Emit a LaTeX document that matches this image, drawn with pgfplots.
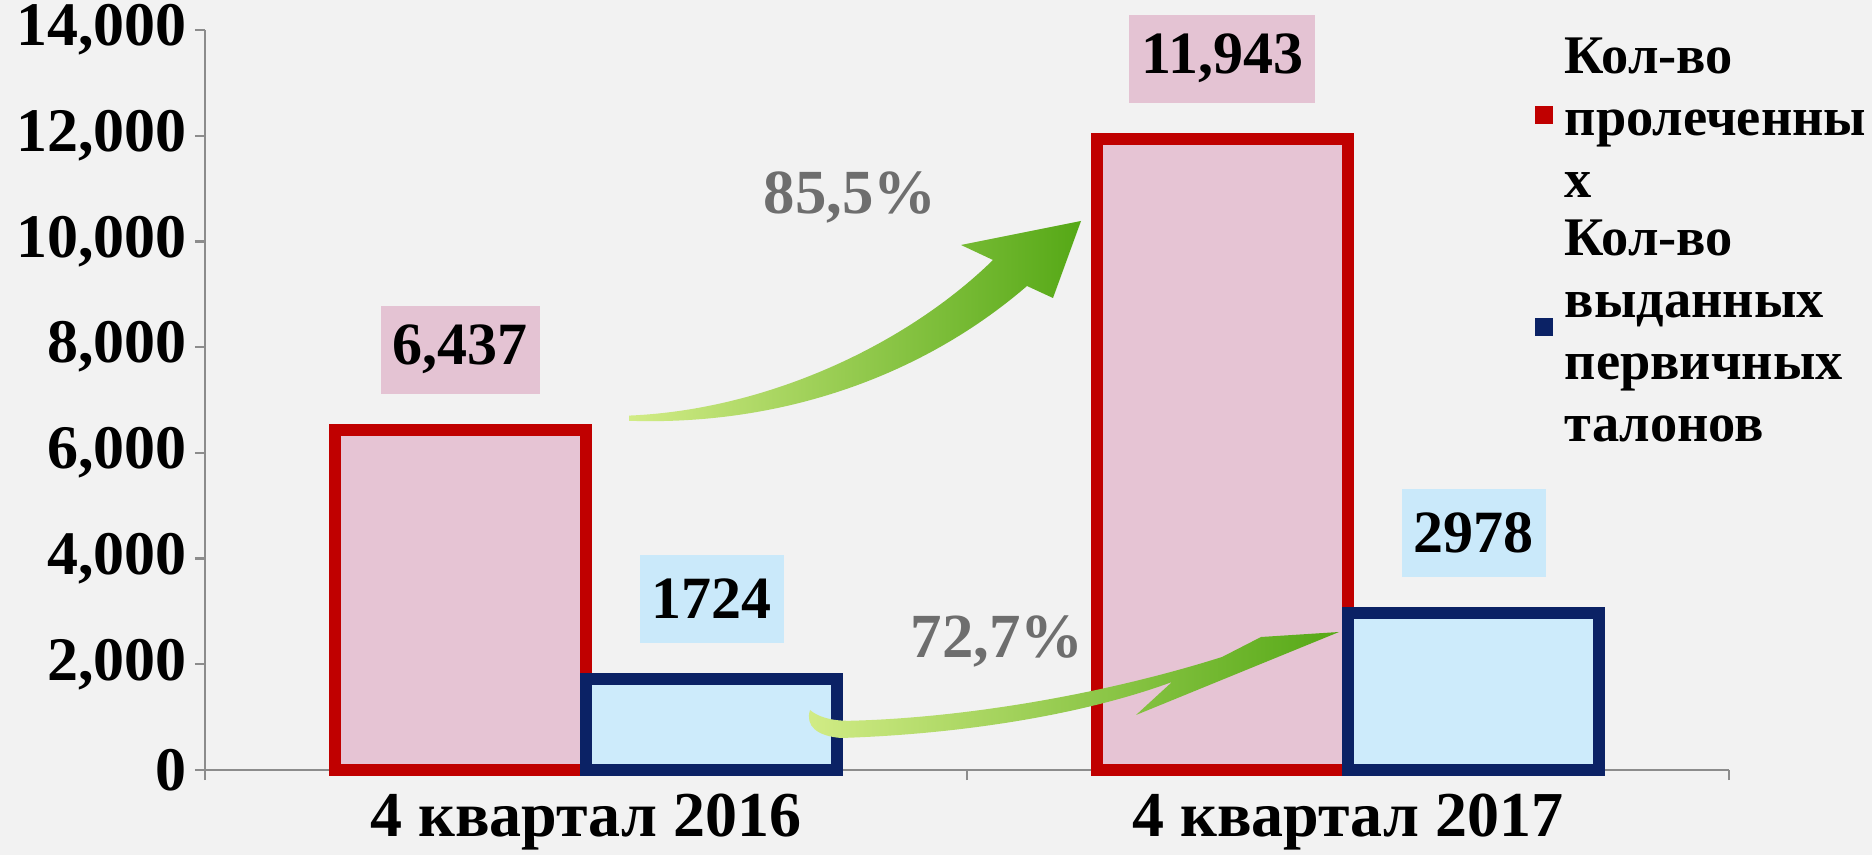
\documentclass[border=0pt]{standalone}
\usepackage{fontspec}
\setmainfont{Liberation Serif}
\usepackage{pgfplots}
\pgfplotsset{compat=1.18}
\definecolor{BgGrey}{HTML}{F2F2F2}
\definecolor{BarPink}{HTML}{E6C4D4}
\definecolor{BarBlue}{HTML}{CDEBFB}
\definecolor{BarRed}{HTML}{C00000}
\definecolor{BarNavy}{HTML}{0B2265}
\definecolor{LabelPink}{HTML}{E4C3D3}
\definecolor{LabelBlue}{HTML}{CAE9FA}
\definecolor{PctGrey}{HTML}{6E6E6E}
\definecolor{AxisGrey}{HTML}{8C8C8C}
\definecolor{LimeLight}{HTML}{D2EC86}
\definecolor{LimeDark}{HTML}{55A816}

\begin{document}
\begin{tikzpicture}
\fill[BgGrey] (-51.25pt,-21.25pt) rectangle (416.75pt,192.5pt);
\path[use as bounding box] (-51.25pt,-21.25pt) rectangle (416.75pt,192.5pt);
\begin{axis}[
  at={(0pt,0pt)}, anchor=south west,
  scale only axis,
  width=381pt, height=185pt,
  ybar=0pt, bar width=0.33,
  xmin=-0.5, xmax=1.5,
  ymin=0, ymax=14000,
  ytick distance=2000,
  scaled y ticks=false,
  yticklabel style={/pgf/number format/fixed, /pgf/number format/1000 sep={,}, xshift=1.5pt},
  xtick={0,1},
  xticklabels={4 квартал 2016, 4 квартал 2017},
  minor xtick={-0.5,0.5,1.5},
  major x tick style={draw=none},
  tick align=outside,
  major tick length=2.5pt, minor tick length=2.5pt,
  tick style={AxisGrey, line width=0.6pt},
  axis x line*=bottom, axis y line*=left,
  axis line style={AxisGrey, line width=0.6pt},
  /pgf/number format/assume math mode=true,
  y tick label style={font=\bfseries\fontsize{15.5}{16}\selectfont},
  x tick label style={font=\bfseries\fontsize{16}{17}\selectfont},
  clip=false,
  every node near coord/.append style={
    font=\bfseries\fontsize{15}{15}\selectfont, text=black, draw=none,
    inner xsep=3pt, minimum height=22pt, anchor=south, yshift=9pt},
]
\addplot[draw=BarRed, fill=BarPink, line width=3pt,
  nodes near coords={\pgfmathprintnumber[1000 sep={,}]{\pgfplotspointmeta}},
  every node near coord/.append style={fill=LabelPink, line width=0pt}]
  coordinates {(0,6437) (1,11943)};
\addplot[draw=BarNavy, fill=BarBlue, line width=3pt,
  nodes near coords={\pgfmathprintnumber[1000 sep={}]{\pgfplotspointmeta}},
  every node near coord/.append style={fill=LabelBlue, line width=0pt}]
  coordinates {(0,1724) (1,2978)};
\end{axis}
\begin{scope}[x=1pt, y=1pt]
% growth arrows
\shade[left color=LimeLight, right color=LimeDark]
  (106,88.6) .. controls (140,90) and (175,106) .. (197,127.5)
  -- (189,131.25) -- (219,137.25) -- (212,118) -- (205.5,121)
  .. controls (180,99) and (145,86) .. (106,87.3) -- cycle;
\shade[left color=LimeLight, right color=LimeDark]
  (151.25,15) .. controls (150,11) and (153,8.5) .. (159,8)
  .. controls (190,9) and (220,14) .. (241.75,22)
  -- (232.75,13.75) -- (283.5,34.5) -- (264,33.25) -- (254.25,28.25)
  .. controls (225,19) and (190,13) .. (161,12.3)
  .. controls (156,12.3) and (153,13.5) .. (151.25,15) -- cycle;
\node[text=PctGrey, font=\bfseries\fontsize{15.7}{16}\selectfont] at (161.25,143.25) {85,5\%};
\node[text=PctGrey, font=\bfseries\fontsize{15.7}{16}\selectfont] at (198,32.25) {72,7\%};
% legend
\fill[BarRed] (332.5,161.5) rectangle (337,166);
\fill[BarNavy] (332.5,108.5) rectangle (337,113);
\node[anchor=west, align=left, inner sep=0pt, font=\bfseries\fontsize{13.6}{15.5}\selectfont]
  at (339.75,163) {Кол-во\\пролеченны\\х};
\node[anchor=west, align=left, inner sep=0pt, font=\bfseries\fontsize{13.6}{15.5}\selectfont]
  at (339.75,109.8) {Кол-во\\выданных\\первичных\\талонов};
\end{scope}
\end{tikzpicture}
\end{document}
